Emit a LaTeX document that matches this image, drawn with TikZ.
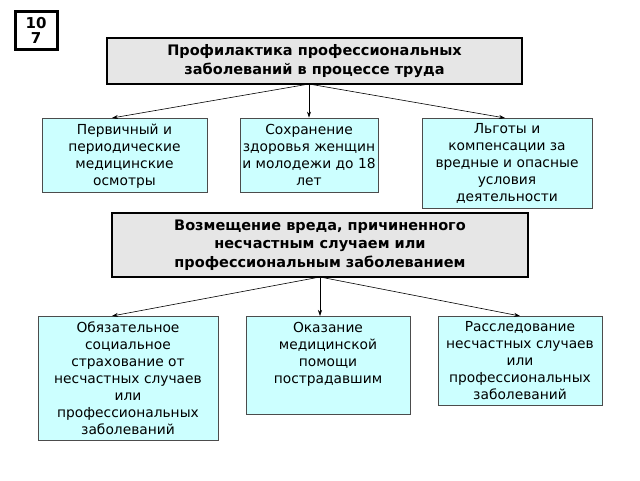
\documentclass[tikz,border=0pt]{standalone}
\usepackage{fontspec}
\setmainfont{DejaVu Sans}
\usetikzlibrary{arrows.meta}
\definecolor{boxcyan}{HTML}{CCFFFF}
\definecolor{boxgray}{HTML}{E6E6E6}
\tikzset{
  headbox/.style={draw, line width=1.6pt, fill=boxgray, font=\bfseries\fontsize{14.5}{18.5}\selectfont, align=center, inner sep=0pt},
  itembox/.style={draw=black!70, line width=0.8pt, fill=boxcyan, inner sep=0pt},
  itemtext/.style={anchor=north, align=center, font=\fontsize{13.8}{17}\selectfont, inner sep=3pt, yshift=-3pt},
  link/.style={-{Stealth[length=6pt,width=4pt]}, line width=0.6pt}
}
\begin{document}
\begin{tikzpicture}[x=1pt,y=-1pt]
    \useasboundingbox (0,0) rectangle (640,480);
    % Badge
    \node[draw, line width=3pt, minimum width=42pt, minimum height=38pt, inner sep=0pt,
      align=center, font=\bfseries\fontsize{15}{15}\selectfont] (badge) at (36,30) {10\\7};
    % Header boxes
    \node[headbox, minimum width=415pt, minimum height=46pt] (prof) at (314.5,61) {Профилактика профессиональных\\заболеваний в процессе труда};
    \node[headbox, minimum width=416pt, minimum height=64pt] (harm) at (320,245) {Возмещение вреда, причиненного\\несчастным случаем или\\профессиональным заболеванием};
    % Upper row
    \node[itembox, minimum width=165pt, minimum height=74pt] (exam) at (124.5,155) {};
    \node[itembox, minimum width=138pt, minimum height=74pt] (health) at (309,155) {};
    \node[itembox, minimum width=170pt, minimum height=90pt] (benef) at (507,163) {};
    \node[itemtext] at (exam.north) {Первичный и\\периодические\\медицинские\\осмотры};
    \node[itemtext] at (health.north) {Сохранение\\здоровья женщин\\и молодежи до 18\\лет};
    \node[itemtext] at (benef.north) {Льготы и\\компенсации за\\вредные и опасные\\условия\\деятельности};
    % Lower row
    \node[itembox, minimum width=180pt, minimum height=124pt] (insur) at (128,378) {};
    \node[itembox, minimum width=164pt, minimum height=98pt] (care) at (328,365) {};
    \node[itembox, minimum width=164pt, minimum height=89pt] (inves) at (520,360.5) {};
    \node[itemtext] at (insur.north) {Обязательное\\социальное\\страхование от\\несчастных случаев\\или\\профессиональных\\заболеваний};
    \node[itemtext] at (care.north) {Оказание\\медицинской\\помощи\\пострадавшим};
    \node[itemtext] at (inves.north) {Расследование\\несчастных случаев\\или\\профессиональных\\заболеваний};
    % Connectors
    \coordinate (pj) at (309,84);
    \draw[link] (pj) -- (112,118);
    \draw[link] (pj) -- (health.north);
    \draw[link] (pj) -- (505,118);
    \coordinate (hj) at (320,277);
    \draw[link] (hj) -- (112,316);
    \draw[link] (hj) -- (320,316);
    \draw[link] (hj) -- (520,316);
\end{tikzpicture}
\end{document}
